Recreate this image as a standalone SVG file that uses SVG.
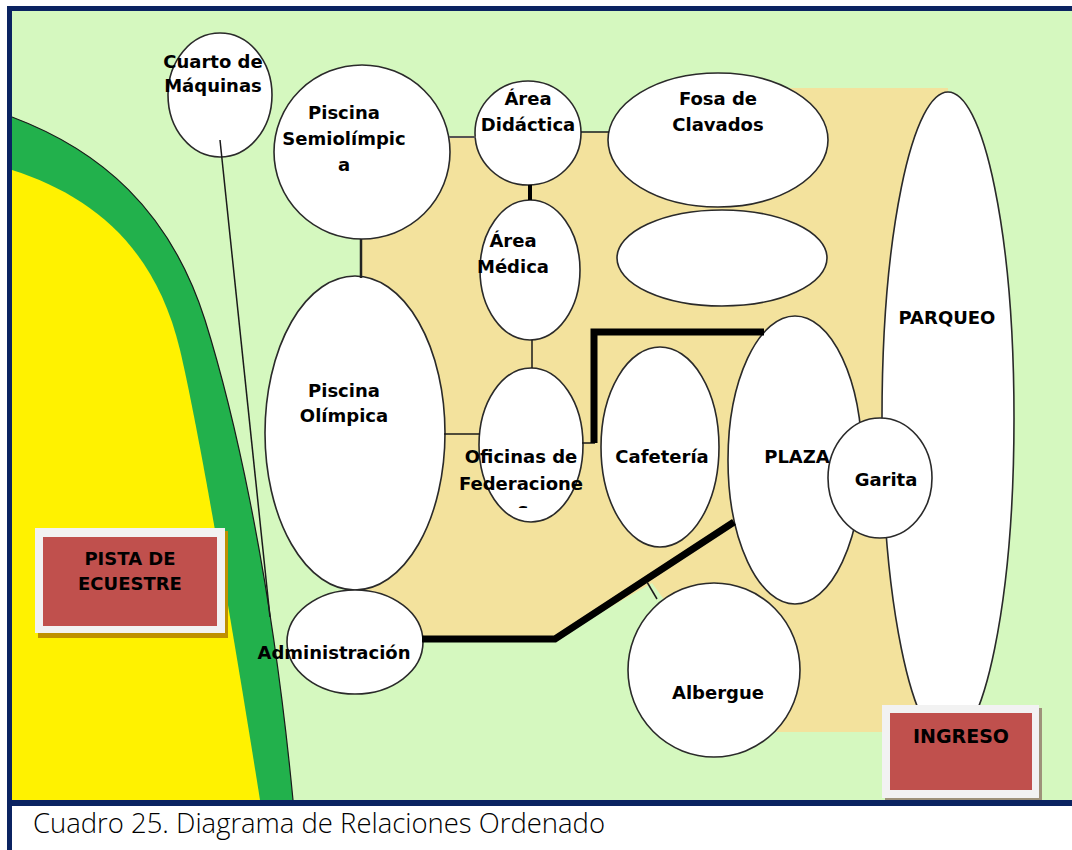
<svg xmlns="http://www.w3.org/2000/svg" width="1072" height="850" viewBox="0 0 1072 850">
  <defs>
    <style>
      .node { fill: #ffffff; stroke: #2a2a2a; stroke-width: 1.6; }
      .lbl { font-family: "DejaVu Sans", Verdana, sans-serif; font-weight: bold; font-size: 18px; fill: #000000; text-anchor: middle; }
      .thin { stroke: #1a1a1a; stroke-width: 1.5; fill: none; }
      .thick { stroke: #000000; stroke-width: 7; fill: none; stroke-linejoin: miter; }
      .frame { fill: #0b2361; }
      .boxout { fill: #f2f2f2; }
      .boxin { fill: #c0504d; }
    </style>
    <clipPath id="clipS">
      <rect x="480" y="440" width="100" height="68"/>
    </clipPath>
  </defs>

  <!-- background -->
  <rect x="0" y="0" width="1072" height="850" fill="#ffffff"/>
  <rect x="12" y="11" width="1060" height="789" fill="#d5f8bf"/>

  <!-- green band and yellow track -->
  <path d="M12,117 C100,150 170,210 205,320 C230,400 270,560 293,800 L12,800 Z" fill="#22b14c"/>
  <path d="M12,170 C90,195 155,245 180,350 C195,413 225,580 260,800 L12,800 Z" fill="#fff200"/>
  <path d="M12,117 C100,150 170,210 205,320 C230,400 270,560 293,800" fill="none" stroke="#1a1a1a" stroke-width="1.2"/>

  <!-- beige zone -->
  <path d="M362,137 L528,135 L610,132 L700,88 L948,88 L946,732 L760,732 L652,583 L555,639 L420,639 L360,600 Z" fill="#f3e29d"/>

  <!-- frame -->
  <rect class="frame" x="7" y="6" width="1065" height="5"/>
  <rect class="frame" x="7" y="6" width="5" height="844"/>
  <rect class="frame" x="7" y="800" width="1065" height="6"/>

  <!-- nodes -->
  <g id="cuarto-maquinas">
    <ellipse class="node" cx="220" cy="95" rx="52" ry="62"/>
    <text class="lbl" x="213" y="68">Cuarto de</text>
    <text class="lbl" x="213" y="92">Máquinas</text>
  </g>
  <g id="piscina-semiolimpica">
    <ellipse class="node" cx="362" cy="152" rx="88" ry="87"/>
    <text class="lbl" x="344" y="119">Piscina</text>
    <text class="lbl" x="344" y="145">Semiolímpic</text>
    <text class="lbl" x="344" y="171">a</text>
  </g>
  <g id="area-didactica">
    <ellipse class="node" cx="528" cy="133" rx="53" ry="52"/>
    <text class="lbl" x="528" y="105">Área</text>
    <text class="lbl" x="528" y="131">Didáctica</text>
  </g>
  <g id="fosa-clavados">
    <ellipse class="node" cx="718" cy="140" rx="110" ry="67"/>
    <text class="lbl" x="718" y="105">Fosa de</text>
    <text class="lbl" x="718" y="131">Clavados</text>
  </g>
  <g id="sin-nombre">
    <ellipse class="node" cx="722" cy="258" rx="105" ry="48"/>
  </g>
  <g id="area-medica">
    <ellipse class="node" cx="530" cy="270" rx="50" ry="70"/>
    <text class="lbl" x="513" y="247">Área</text>
    <text class="lbl" x="513" y="273">Médica</text>
  </g>
  <g id="piscina-olimpica">
    <ellipse class="node" cx="355" cy="433" rx="90" ry="157"/>
    <text class="lbl" x="344" y="397">Piscina</text>
    <text class="lbl" x="344" y="422">Olímpica</text>
  </g>
  <g id="oficinas-federaciones">
    <ellipse class="node" cx="531" cy="445" rx="52" ry="77"/>
    <text class="lbl" x="521" y="463">Oficinas de</text>
    <text class="lbl" x="521" y="490">Federacione</text>
    <text class="lbl" x="523" y="516" clip-path="url(#clipS)">s</text>
  </g>
  <g id="cafeteria">
    <ellipse class="node" cx="660" cy="447" rx="59" ry="100"/>
    <text class="lbl" x="662" y="463">Cafetería</text>
  </g>
  <g id="parqueo">
    <ellipse class="node" cx="948" cy="418" rx="66" ry="326"/>
    <text class="lbl" x="947" y="324">PARQUEO</text>
  </g>
  <g id="plaza">
    <ellipse class="node" cx="795" cy="460" rx="67" ry="144"/>
  </g>
  <g id="garita">
    <ellipse class="node" cx="880" cy="478" rx="52" ry="60"/>
    <text class="lbl" x="886" y="486">Garita</text>
  </g>
  <g id="plaza-label">
    <text class="lbl" x="797" y="463">PLAZA</text>
  </g>
  <g id="albergue">
    <ellipse class="node" cx="714" cy="670" rx="86" ry="87"/>
    <text class="lbl" x="718" y="699">Albergue</text>
  </g>
  <g id="administracion">
    <ellipse class="node" cx="355" cy="642" rx="68" ry="52"/>
    <text class="lbl" x="334" y="659">Administración</text>
  </g>
  <g id="pista-ecuestre">
    <rect x="38" y="531" width="190" height="107" fill="#bf9000"/>
    <rect class="boxout" x="35" y="528" width="190" height="105"/>
    <rect class="boxin" x="43" y="537" width="174" height="89"/>
    <text class="lbl" x="130" y="565">PISTA DE</text>
    <text class="lbl" x="130" y="590">ECUESTRE</text>
  </g>
  <g id="ingreso">
    <rect x="885" y="708" width="157" height="92" fill="#9e927a"/>
    <rect class="boxout" x="882" y="705" width="157" height="93"/>
    <rect class="boxin" x="890" y="713" width="142" height="77"/>
    <text class="lbl" x="961" y="743" style="font-size:19px">INGRESO</text>
  </g>

  <!-- connectors -->
  <g id="connectors">
    <line class="thin" x1="220" y1="140" x2="270" y2="617"/>
    <line x1="449" y1="137" x2="476" y2="137" stroke="#555" stroke-width="2"/>
    <line class="thin" x1="581" y1="132" x2="609" y2="132"/>
    <line x1="530" y1="185" x2="530" y2="200" stroke="#000" stroke-width="4"/>
    <line x1="361" y1="239" x2="361" y2="278" stroke="#222" stroke-width="2.5"/>
    <line class="thin" x1="532" y1="340" x2="532" y2="368"/>
    <line class="thin" x1="444" y1="434" x2="480" y2="434"/>
    <line class="thin" x1="582" y1="443" x2="595" y2="443"/>
    <polyline class="thick" points="594,443 594,332 764,332"/>
    <polyline class="thick" points="422,639 555,639 734,522"/>
    <line class="thin" x1="647" y1="582" x2="657" y2="599"/>
  </g>

  <!-- caption -->
  <text x="33" y="833" font-family="'Open Sans', 'Noto Sans', sans-serif" font-weight="300" font-size="27" fill="#000" textLength="572" lengthAdjust="spacingAndGlyphs">Cuadro 25. Diagrama de Relaciones Ordenado</text>
</svg>
